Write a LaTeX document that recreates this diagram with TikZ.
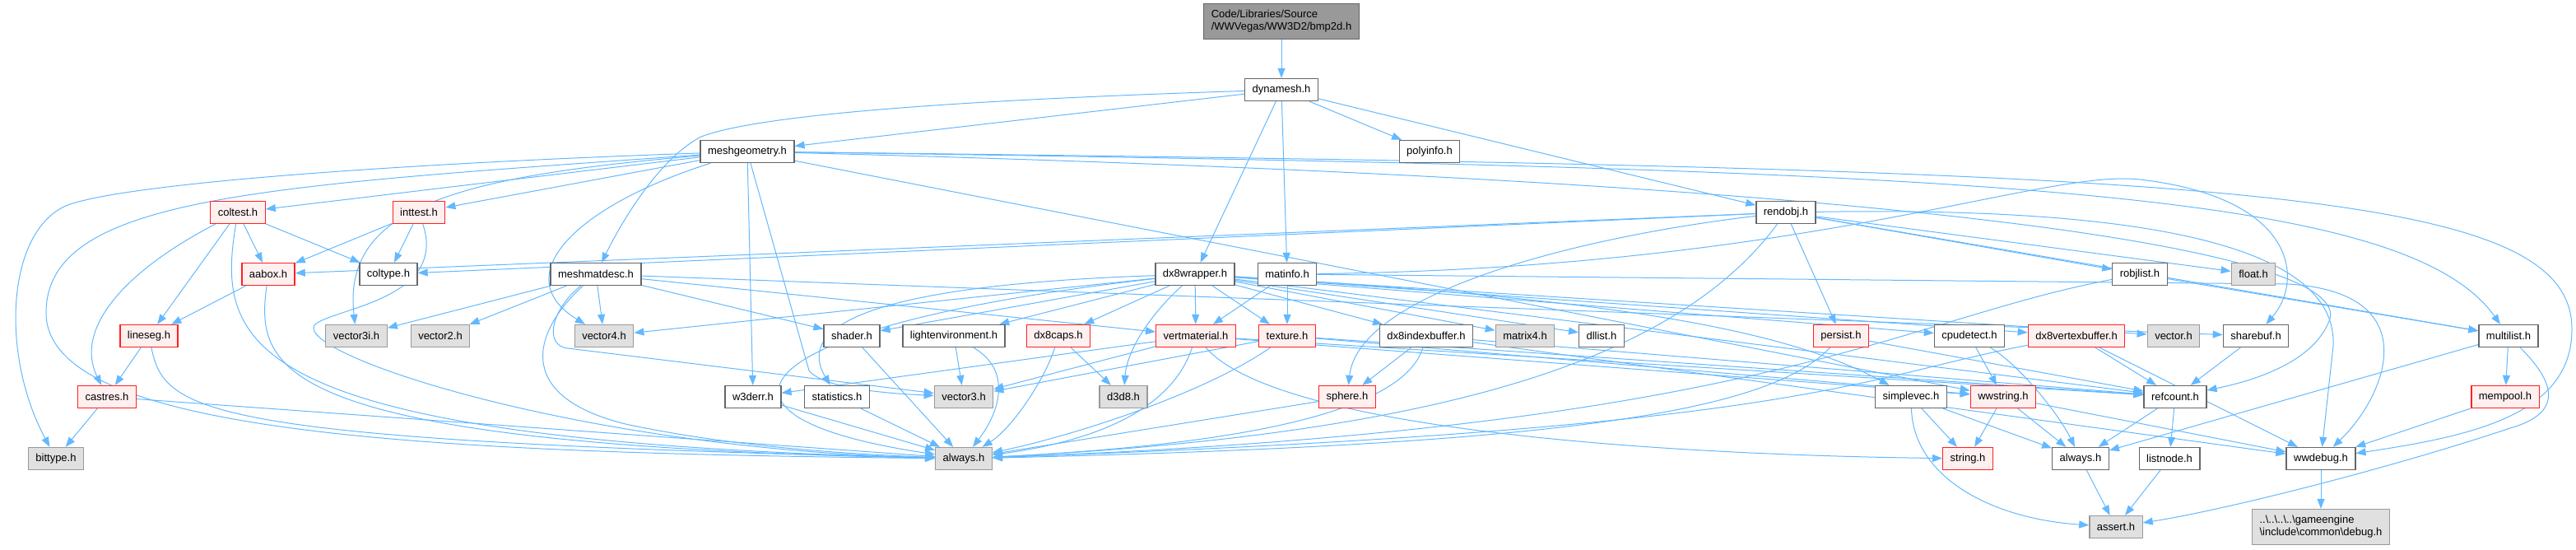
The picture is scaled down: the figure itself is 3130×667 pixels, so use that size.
\documentclass[tikz,border=0pt]{standalone}
\usepackage{xcolor}
\usepackage{fontspec}
\setmainfont{Liberation Sans}
\usetikzlibrary{arrows.meta,backgrounds}
\definecolor{edgeblue}{HTML}{63B8FF}
\definecolor{boxgray}{HTML}{666666}
\definecolor{sysgray}{HTML}{999999}
\definecolor{sysfill}{HTML}{E0E0E0}
\definecolor{hotred}{HTML}{FF2020}
\definecolor{hotfill}{HTML}{FFF0F0}
\definecolor{rootfill}{HTML}{999999}

\begin{document}
\begin{tikzpicture}[x=1pt, y=-1pt, >={Stealth[length=12pt,width=9pt,inset=0pt]},
  font=\fontsize{13}{15}\selectfont,
  file/.style={draw=boxgray, fill=white, line width=1.3pt, minimum height=27pt, inner xsep=9pt, inner ysep=2pt},
  sysfile/.style={file, draw=sysgray, fill=sysfill},
  hotfile/.style={file, draw=hotred, fill=hotfill},
  dep/.style={->, draw=edgeblue, line width=1pt}]
  \useasboundingbox (0,0) rectangle (3130,667);
  % files, row by row
  \node[file, fill=rootfill, align=left, minimum height=43pt] (root) at (1557,26) {Code/Libraries/Source\\/WWVegas/WW3D2/bmp2d.h};
  \node[file] (dynamesh) at (1557,109) {dynamesh.h};
  \node[file] (meshgeometry) at (908,184) {meshgeometry.h};
  \node[file] (polyinfo) at (1737,184) {polyinfo.h};
  \node[hotfile] (coltest) at (289,258) {coltest.h};
  \node[hotfile] (inttest) at (509,258) {inttest.h};
  \node[file] (rendobj) at (2170,258) {rendobj.h};
  \node[hotfile] (aabox) at (326,333) {aabox.h};
  \node[file] (coltype) at (472,333) {coltype.h};
  \node[file] (meshmatdesc) at (724,333) {meshmatdesc.h};
  \node[file] (dx8wrapper) at (1452,333) {dx8wrapper.h};
  \node[file] (matinfo) at (1564,333) {matinfo.h};
  \node[file] (robjlist) at (2600,333) {robjlist.h};
  \node[sysfile] (float) at (2738,333) {float.h};
  \node[hotfile] (lineseg) at (181,408) {lineseg.h};
  \node[sysfile] (vector3i) at (433,408) {vector3i.h};
  \node[sysfile] (vector2) at (535,408) {vector2.h};
  \node[sysfile] (vector4) at (734,408) {vector4.h};
  \node[file] (shader) at (1035,408) {shader.h};
  \node[file] (lightenv) at (1159,408) {lightenvironment.h};
  \node[hotfile] (dx8caps) at (1286,408) {dx8caps.h};
  \node[hotfile] (vertmaterial) at (1453,408) {vertmaterial.h};
  \node[hotfile] (texture) at (1564,408) {texture.h};
  \node[file] (dx8indexbuffer) at (1733,408) {dx8indexbuffer.h};
  \node[sysfile] (matrix4) at (1853,408) {matrix4.h};
  \node[file] (dllist) at (1946,408) {dllist.h};
  \node[hotfile] (persist) at (2237,408) {persist.h};
  \node[file] (cpudetect) at (2393,408) {cpudetect.h};
  \node[hotfile] (dx8vertexbuffer) at (2523,408) {dx8vertexbuffer.h};
  \node[sysfile] (vector) at (2641,408) {vector.h};
  \node[file] (sharebuf) at (2741,408) {sharebuf.h};
  \node[file] (multilist) at (3048,408) {multilist.h};
  \node[hotfile] (castres) at (130,482) {castres.h};
  \node[file] (w3derr) at (915,482) {w3derr.h};
  \node[file] (statistics) at (1017,482) {statistics.h};
  \node[sysfile] (vector3) at (1171,482) {vector3.h};
  \node[sysfile] (d3d8) at (1365,482) {d3d8.h};
  \node[hotfile] (sphere) at (1637,482) {sphere.h};
  \node[file] (simplevec) at (2322,482) {simplevec.h};
  \node[hotfile] (wwstring) at (2434,482) {wwstring.h};
  \node[file] (refcount) at (2643,482) {refcount.h};
  \node[hotfile] (mempool) at (3044,482) {mempool.h};
  \node[sysfile] (bittype) at (68,557) {bittype.h};
  \node[sysfile] (alwaysA) at (1171,557) {always.h};
  \node[hotfile] (string) at (2391,557) {string.h};
  \node[file] (alwaysB) at (2528,557) {always.h};
  \node[file] (listnode) at (2636,557) {listnode.h};
  \node[file] (wwdebug) at (2820,557) {wwdebug.h};
  \node[sysfile] (assert) at (2571,640) {assert.h};
  \node[sysfile, align=left, minimum height=43pt] (debug) at (2820,640) {..\textbackslash..\textbackslash..\textbackslash..\textbackslash gameengine\\\textbackslash include\textbackslash common\textbackslash debug.h};

  % include edges, kept under the boxes
  \begin{scope}[on background layer]
  \draw[dep] (root) -- (dynamesh);
  \draw[dep] (dynamesh) -- (meshgeometry);
  \draw[dep] (dynamesh) .. controls (1150,122) and (920,140) .. (852,166) .. controls (805,190) and (760,260) .. (meshmatdesc);
  \draw[dep] (dynamesh) -- (dx8wrapper);
  \draw[dep] (dynamesh) -- (matinfo);
  \draw[dep] (dynamesh) -- (polyinfo);
  \draw[dep] (dynamesh) -- (rendobj);

  \draw[dep] (meshgeometry) -- (coltest);
  \draw[dep] (meshgeometry) -- (inttest);
  \draw[dep] (meshgeometry) .. controls (500,198) and (150,222) .. (80,250) .. controls (8,282) and (0,430) .. (bittype);
  \draw[dep] (meshgeometry) .. controls (320,226) and (56,238) .. (56,380) .. controls (56,525) and (500,550) .. (alwaysA);
  \draw[dep] (meshgeometry) .. controls (560,214) and (415,250) .. (vector3i);
  \draw[dep] (meshgeometry) .. controls (700,250) and (615,335) .. (vector4);
  \draw[dep] (meshgeometry) -- (w3derr);
  \draw[dep] (meshgeometry) -- (983,450) .. controls (1000,472) and (1080,478) .. (vector3);
  \draw[dep] (meshgeometry) -- (wwstring);
  \draw[dep] (meshgeometry) .. controls (2400,205) and (2920,228) .. (multilist);
  \draw[dep] (meshgeometry) .. controls (2700,205) and (3125,225) .. (3125,400) .. controls (3125,505) and (3000,530) .. (wwdebug);
  \draw[dep] (meshgeometry) .. controls (2500,225) and (2860,320) .. (2830,390) .. controls (2810,440) and (2740,462) .. (refcount);

  \draw[dep] (coltest) -- (aabox);
  \draw[dep] (coltest) -- (coltype);
  \draw[dep] (coltest) -- (lineseg);
  \draw[dep] (coltest) .. controls (150,330) and (90,400) .. (castres);
  \draw[dep] (coltest) .. controls (262,420) and (290,535) .. (alwaysA);
  \draw[dep] (inttest) -- (aabox);
  \draw[dep] (inttest) -- (coltype);
  \draw[dep] (inttest) .. controls (545,365) and (400,375) .. (382,395) .. controls (360,430) and (700,545) .. (alwaysA);
  \draw[dep] (aabox) -- (lineseg);
  \draw[dep] (aabox) .. controls (310,450) and (330,540) .. (alwaysA);
  \draw[dep] (lineseg) -- (castres);
  \draw[dep] (lineseg) .. controls (200,500) and (240,535) .. (alwaysA);
  \draw[dep] (castres) -- (bittype);
  \draw[dep] (castres) -- (alwaysA);

  \draw[dep] (meshmatdesc) -- (vector3i);
  \draw[dep] (meshmatdesc) -- (vector2);
  \draw[dep] (meshmatdesc) -- (vector4);
  \draw[dep] (meshmatdesc) -- (shader);
  \draw[dep] (meshmatdesc) -- (vertmaterial);
  \draw[dep] (meshmatdesc) -- (sharebuf);
  \draw[dep] (meshmatdesc) .. controls (670,375) and (660,420) .. (690,423) -- (vector3);
  \draw[dep] (meshmatdesc) .. controls (650,400) and (620,480) .. (760,515) .. controls (900,545) and (1050,552) .. (alwaysA);

  \draw[dep] (dx8wrapper) -- (vector4);
  \draw[dep] (dx8wrapper) -- (shader);
  \draw[dep] (dx8wrapper) -- (lightenv);
  \draw[dep] (dx8wrapper) -- (dx8caps);
  \draw[dep] (dx8wrapper) -- (vertmaterial);
  \draw[dep] (dx8wrapper) -- (texture);
  \draw[dep] (dx8wrapper) .. controls (1405,375) and (1370,420) .. (d3d8);
  \draw[dep] (dx8wrapper) -- (dx8indexbuffer);
  \draw[dep] (dx8wrapper) -- (matrix4);
  \draw[dep] (dx8wrapper) -- (dllist);
  \draw[dep] (dx8wrapper) .. controls (1100,345) and (960,385) .. (statistics);
  \draw[dep] (dx8wrapper) .. controls (900,395) and (820,505) .. (alwaysA);
  \draw[dep] (dx8wrapper) -- (cpudetect);
  \draw[dep] (dx8wrapper) -- (dx8vertexbuffer);
  \draw[dep] (dx8wrapper) -- (vector);
  \draw[dep] (dx8wrapper) .. controls (1900,360) and (2150,390) .. (simplevec);
  \draw[dep] (dx8wrapper) -- (refcount);

  \draw[dep] (matinfo) -- (vertmaterial);
  \draw[dep] (matinfo) -- (texture);
  \draw[dep] (matinfo) .. controls (2200,325) and (2480,205) .. (2600,218) .. controls (2790,240) and (2800,340) .. (sharebuf);
  \draw[dep] (matinfo) -- (2780,345) .. controls (2950,355) and (2900,480) .. (wwdebug);

  \draw[dep] (rendobj) -- (aabox);
  \draw[dep] (rendobj) -- (coltype);
  \draw[dep] (rendobj) .. controls (2050,420) and (1800,525) .. (alwaysA);
  \draw[dep] (rendobj) .. controls (1900,290) and (1650,360) .. (sphere);
  \draw[dep] (rendobj) -- (persist);
  \draw[dep] (rendobj) -- (robjlist);
  \draw[dep] (rendobj) -- (float);
  \draw[dep] (rendobj) -- (multilist);
  \draw[dep] (rendobj) .. controls (2650,250) and (2840,310) .. (2835,420) -- (wwdebug);

  \draw[dep] (shader) -- (alwaysA);
  \draw[dep] (lightenv) -- (vector3);
  \draw[dep] (lightenv) .. controls (1230,450) and (1215,500) .. (alwaysA);
  \draw[dep] (dx8caps) -- (d3d8);
  \draw[dep] (dx8caps) .. controls (1270,460) and (1230,520) .. (alwaysA);
  \draw[dep] (vertmaterial) -- (vector3);
  \draw[dep] (vertmaterial) -- (w3derr);
  \draw[dep] (vertmaterial) .. controls (1420,510) and (1300,540) .. (alwaysA);
  \draw[dep] (vertmaterial) .. controls (1550,520) and (2000,552) .. (string);
  \draw[dep] (vertmaterial) -- (wwstring);
  \draw[dep] (vertmaterial) -- (refcount);
  \draw[dep] (texture) -- (vector3);
  \draw[dep] (texture) .. controls (1460,480) and (1300,530) .. (alwaysA);
  \draw[dep] (texture) -- (wwstring);
  \draw[dep] (texture) -- (refcount);
  \draw[dep] (dx8indexbuffer) -- (sphere);
  \draw[dep] (dx8indexbuffer) .. controls (1700,520) and (1400,545) .. (alwaysA);
  \draw[dep] (dx8indexbuffer) -- (refcount);
  \draw[dep] (dx8indexbuffer) -- (wwdebug);
  \draw[dep] (sphere) -- (alwaysA);
  \draw[dep] (w3derr) -- (alwaysA);
  \draw[dep] (statistics) -- (alwaysA);

  \draw[dep] (robjlist) .. controls (2300,390) and (2150,520) .. (alwaysA);
  \draw[dep] (robjlist) -- (multilist);
  \draw[dep] (persist) .. controls (2150,500) and (1900,540) .. (alwaysA);
  \draw[dep] (persist) -- (refcount);
  \draw[dep] (cpudetect) -- (wwstring);
  \draw[dep] (cpudetect) .. controls (2450,440) and (2500,500) .. (alwaysB);
  \draw[dep] (dx8vertexbuffer) .. controls (2250,460) and (2200,520) .. (alwaysA);
  \draw[dep] (dx8vertexbuffer) -- (refcount);
  \draw[dep] (dx8vertexbuffer) -- (wwdebug);
  \draw[dep] (sharebuf) -- (refcount);
  \draw[dep] (multilist) -- (alwaysB);
  \draw[dep] (multilist) -- (mempool);
  \draw[dep] (multilist) .. controls (3100,460) and (3120,500) .. (3050,520) .. controls (2900,570) and (2700,620) .. (assert);
  \draw[dep] (mempool) -- (wwdebug);

  \draw[dep] (simplevec) -- (string);
  \draw[dep] (simplevec) -- (alwaysB);
  \draw[dep] (simplevec) .. controls (2325,580) and (2420,630) .. (assert);
  \draw[dep] (wwstring) -- (string);
  \draw[dep] (wwstring) -- (alwaysB);
  \draw[dep] (wwstring) -- (wwdebug);
  \draw[dep] (refcount) -- (alwaysB);
  \draw[dep] (refcount) -- (listnode);
  \draw[dep] (alwaysB) -- (assert);
  \draw[dep] (listnode) -- (assert);
  \draw[dep] (wwdebug) -- (debug);
  \end{scope}
\end{tikzpicture}
\end{document}
